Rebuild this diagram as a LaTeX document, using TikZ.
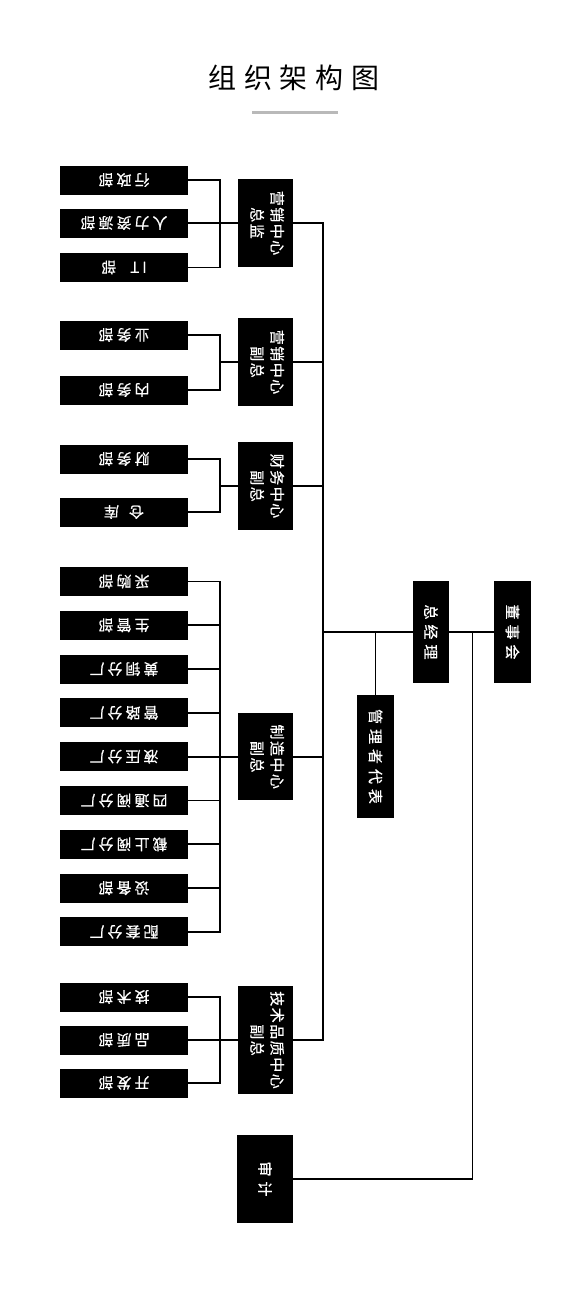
\documentclass[tikz,border=0pt]{standalone}
\usepackage{fontspec}
\setmainfont{Noto Sans CJK SC}
\newfontfamily\tfont[LetterSpace=28]{Noto Sans CJK SC}
\newfontfamily\lfont[LetterSpace=20,FakeBold=0.6]{Noto Sans CJK SC}
\newfontfamily\mfont[LetterSpace=10,FakeBold=0.6]{Noto Sans CJK SC}
\newfontfamily\rfont[LetterSpace=33,FakeBold=0.6]{Noto Sans CJK SC}
\newcommand{\upsd}[1]{\rotatebox[origin=c]{180}{\lfont\fontsize{15}{17}\selectfont #1}}
\newcommand{\vtwo}[2]{\rotatebox[origin=c]{-90}{\mfont\fontsize{15}{20}\selectfont\begin{tabular}{@{}c@{}}#1\\#2\end{tabular}}}
\newcommand{\vone}[1]{\rotatebox[origin=c]{-90}{\rfont\fontsize{15}{18}\selectfont #1}}
\tikzset{
  box/.style={rectangle, fill=black, text=white, inner sep=0pt},
  leaf/.style={box, minimum width=128pt, minimum height=29pt},
  mid/.style={box, minimum width=55pt, minimum height=88pt},
  top/.style={box, minimum width=36pt, minimum height=102pt},
  conn/.style={line width=1.8pt, line cap=rect}
}
\begin{document}
\begin{tikzpicture}[x=1pt,y=-1pt]
\useasboundingbox (0,0) rectangle (580,1302);
% title
\node (title) at (294,78) {\tfont\fontsize{28}{30}\selectfont 组织架构图};
\draw[line width=3pt, gray!55] (252,112) coordinate (ul1) -- (338,112) coordinate (ul2);

% group 1
\node[leaf] (a1) at (124,180) {\upsd{行政部}};
\node[leaf] (a2) at (124,223) {\upsd{人力资源部}};
\node[leaf] (a3) at (124,267.5) {\upsd{IT\hspace{14pt}部}};
\node[mid] (m1) at (265.5,223) {\vtwo{营销中心}{总监}};
% group 2
\node[leaf] (b1) at (124,335) {\upsd{业务部}};
\node[leaf] (b2) at (124,390) {\upsd{内务部}};
\node[mid] (m2) at (265.5,362) {\vtwo{营销中心}{副总}};
% group 3
\node[leaf] (c1) at (124,459) {\upsd{财务部}};
\node[leaf] (c2) at (124,512) {\upsd{仓\hspace{10pt}库}};
\node[mid] (m3) at (265.5,486) {\vtwo{财务中心}{副总}};
% group 4
\node[leaf] (d1) at (124,581.5) {\upsd{采购部}};
\node[leaf] (d2) at (124,625.3) {\upsd{生管部}};
\node[leaf] (d3) at (124,669.1) {\upsd{黄铜分厂}};
\node[leaf] (d4) at (124,712.9) {\upsd{管路分厂}};
\node[leaf] (d5) at (124,756.7) {\upsd{液压分厂}};
\node[leaf] (d6) at (124,800.5) {\upsd{四通阀分厂}};
\node[leaf] (d7) at (124,844.3) {\upsd{截止阀分厂}};
\node[leaf] (d8) at (124,888.1) {\upsd{设备部}};
\node[leaf] (d9) at (124,931.9) {\upsd{配套分厂}};
\node[mid, minimum height=87pt] (m4) at (265.5,756.7) {\vtwo{制造中心}{副总}};
% group 5
\node[leaf] (e1) at (124,997) {\upsd{技术部}};
\node[leaf] (e2) at (124,1040) {\upsd{品质部}};
\node[leaf] (e3) at (124,1083) {\upsd{开发部}};
\node[mid, minimum height=108pt] (m5) at (265.5,1040) {\vtwo{技术品质中心}{副总}};
% audit
\node[mid, minimum width=56pt] (au) at (265,1179) {\vone{审计}};
% right side
\node[top] (gm) at (431,632) {\vone{总经理}};
\node[top, minimum width=37pt] (bd) at (512.5,632) {\vone{董事会}};
\node[top, minimum width=37pt, minimum height=123pt] (mr) at (375.5,756.5) {\vone{管理者代表}};

% connectors: brackets
\draw[conn] (a1.east) -- ++(32,0) |- (a3.east);
\draw[conn] (a2.east) -- (m1.west);
\draw[conn] (b1.east) -- ++(32,0) |- (b2.east);
\draw[conn] (b1.east -| 220,0) ++(0,27) coordinate (bm) -- (bm -| m2.west);
\draw[conn] (c1.east) -- ++(32,0) |- (c2.east);
\draw[conn] (c1.east -| 220,0) ++(0,27) coordinate (cm) -- (cm -| m3.west);
\draw[conn] (d1.east) -- ++(32,0) |- (d9.east);
\foreach \n in {d2,d3,d4,d6,d7,d8} \draw[conn] (\n.east) -- ++(32,0);
\draw[conn] (d5.east) -- (m4.west);
\draw[conn] (e1.east) -- ++(32,0) |- (e3.east);
\draw[conn] (e2.east) -- (m5.west);

% trunk
\coordinate (t1) at (323,223);
\coordinate (t5) at (323,1040);
\draw[conn] (m1.east) -- (t1) -- (t5) -- (m5.east);
\draw[conn] (m2.east) -- (m2.east -| t1);
\draw[conn] (m3.east) -- (m3.east -| t1);
\draw[conn] (m4.east) -- (m4.east -| t1);
\coordinate (tg) at (323,632);
\draw[conn] (tg) -- (gm.west);
\draw[conn] (mr.north) -- (mr.north |- tg);
\draw[conn] (gm.east) -- (bd.west);
\coordinate (rv) at (472.5,632);
\draw[conn] (rv) -- (rv |- au.east) -- (au.east);
\end{tikzpicture}
\end{document}
